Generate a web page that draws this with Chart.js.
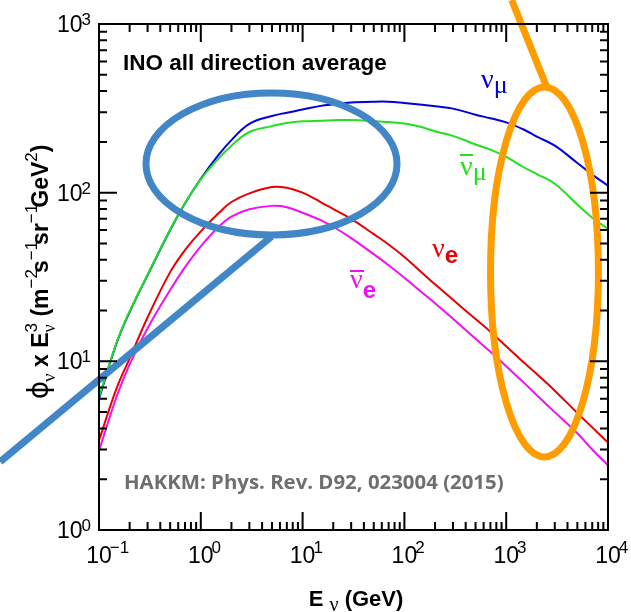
<!DOCTYPE html>
<html>
<head>
<meta charset="utf-8">
<script src="https://cdn.jsdelivr.net/npm/chart.js@4.4.0/dist/chart.umd.min.js"></script>
<style>
  body { margin: 0; background: #fff; }
</style>
</head>
<body>
<canvas id="fluxChart" width="631" height="612"></canvas>
<script>
// neutrino energy (GeV) and flux x E^3
const energies = [0.1, 0.15, 0.2, 0.3, 0.5, 0.7, 1, 1.5, 2, 3, 5, 7, 10, 15, 20, 30, 50, 70, 100, 150, 200, 300, 500, 700, 1000, 1500, 2000, 3000, 5000, 7000, 10000];
const numu    = [6.0, 13.0, 19.6, 32.4, 60, 86.5, 121, 168, 205, 256, 285, 298, 311, 327, 334, 342, 346, 346, 340, 332, 325, 315, 290, 276, 261, 236, 215, 190, 150, 128, 110];
const numubar = [6.15, 13.1, 19.8, 32.6, 60.5, 86.7, 120, 160, 190, 229, 248, 259, 265, 267, 269, 270, 266, 262, 257, 244, 231, 217, 193, 180, 163, 141, 129, 113, 85, 71, 61];
const nue     = [3.4, 7.0, 10.4, 18.2, 33.8, 45.7, 59, 75.7, 88, 99, 108, 107, 100, 88, 80, 70, 56.8, 49.3, 41.6, 33.4, 28.6, 23.2, 17.8, 15.0, 12.3, 9.8, 8.4, 6.7, 4.94, 4.06, 3.3];
const nuebar  = [2.95, 6.25, 9.6, 15.7, 26.5, 36.2, 48.1, 62.8, 72.1, 79.8, 83.5, 82, 76, 68.7, 62.8, 53.8, 43.2, 37.1, 31.3, 25.5, 22.1, 17.9, 13.6, 11.4, 9.35, 7.45, 6.3, 5.0, 3.75, 3.0, 2.42];

const xTicks = [0.1, 1, 10, 100, 1000, 10000];
const yTicks = [1, 10, 100, 1000];

// highlight rings: centre in data units, half axes in decades
const blueRing = { e: 4.95, flux: 148, rx: 1.233, ry: 0.421 };
const blueTail = [[4.95, 55], [0.0107, 2.54]];
const orangeRing = { e: 2377, flux: 33.9, rx: 0.53, ry: 1.097 };
const orangeTail = [[2500, 423], [1132, 1388]];

const canvas = document.getElementById("fluxChart");

function pairs(ys) {
    return energies.map((e, i) => ({ x: e, y: ys[i] }));
}

function drawParts(ctx, parts, x, y) {
    parts.forEach((p) => {
        ctx.font = p.f;
        ctx.fillText(p.t, x + (p.dx || 0), y + (p.dy || 0));
        if (p.under) {
            ctx.font = p.under.f;
            ctx.fillText(p.under.t, x, y + p.under.dy);
        }
        ctx.font = p.f;
        x += ctx.measureText(p.t).width + (p.dx || 0) + (p.kern || 0);
    });
    return x;
}

function partsWidth(ctx, parts) {
    let w = 0;
    parts.forEach((p) => {
        ctx.font = p.f;
        w += ctx.measureText(p.t).width + (p.dx || 0) + (p.kern || 0);
    });
    return w;
}

function supText(exp) {
    return exp < 0 ? "\u2212" + (-exp) : String(exp);
}

const decor = {
    id: "decor",
    afterDatasetsDraw(chart) {
        const ctx = chart.ctx;
        const xs = chart.scales.x, ys = chart.scales.y;
        ctx.save();
        ctx.lineWidth = 7;
        [[blueRing, blueTail, "#4186c7"], [orangeRing, orangeTail, "#ff9c00"]].forEach(([ring, tail, col]) => {
            const cx = xs.getPixelForValue(ring.e);
            const cy = ys.getPixelForValue(ring.flux);
            const rx = xs.getPixelForValue(ring.e * Math.pow(10, ring.rx)) - cx;
            const ry = cy - ys.getPixelForValue(ring.flux * Math.pow(10, ring.ry));
            ctx.strokeStyle = col;
            ctx.beginPath();
            ctx.ellipse(cx, cy, rx, ry, 0, 0, Math.PI * 2);
            ctx.stroke();
            ctx.beginPath();
            ctx.moveTo(xs.getPixelForValue(tail[0][0]), ys.getPixelForValue(tail[0][1]));
            ctx.lineTo(xs.getPixelForValue(tail[1][0]), ys.getPixelForValue(tail[1][1]));
            ctx.stroke();
        });
        ctx.restore();
    },
    afterDraw(chart) {
        const ctx = chart.ctx;
        const a = chart.chartArea;
        const xs = chart.scales.x, ys = chart.scales.y;
        ctx.save();
        ctx.strokeStyle = "#000";
        ctx.lineWidth = 2;
        ctx.strokeRect(a.left, a.top, a.right - a.left, a.bottom - a.top);

        // inward ticks on all four sides
        ctx.beginPath();
        for (let k = -1; k < 4; k++) {
            for (let m = 1; m < 10; m++) {
                const px = xs.getPixelForValue(m * Math.pow(10, k));
                const len = m === 1 ? 18 : 8;
                ctx.moveTo(px, a.bottom); ctx.lineTo(px, a.bottom - len);
                ctx.moveTo(px, a.top); ctx.lineTo(px, a.top + len);
            }
        }
        for (let k = 0; k < 3; k++) {
            for (let m = 1; m < 10; m++) {
                const py = ys.getPixelForValue(m * Math.pow(10, k));
                const len = m === 1 ? 18 : 8;
                ctx.moveTo(a.left, py); ctx.lineTo(a.left + len, py);
                ctx.moveTo(a.right, py); ctx.lineTo(a.right - len, py);
            }
        }
        ctx.stroke();

        // tick labels 10^n
        ctx.fillStyle = "#000";
        ctx.textAlign = "left";
        ctx.textBaseline = "alphabetic";
        const big = '23px "Liberation Sans"', small = '17px "Liberation Sans"';
        xTicks.forEach((v) => {
            const px = xs.getPixelForValue(v);
            ctx.font = big;
            const w = ctx.measureText("10").width;
            ctx.fillText("10", px - w / 2, a.bottom + 33);
            ctx.font = small;
            ctx.fillText(supText(Math.round(Math.log10(v))), px + w / 2 - 2, a.bottom + 23);
        });
        yTicks.forEach((v) => {
            const py = ys.getPixelForValue(v);
            const s = supText(Math.round(Math.log10(v)));
            ctx.font = small;
            const ws = ctx.measureText(s).width;
            ctx.fillText(s, 91 - ws, py + 1);
            ctx.font = big;
            const w = ctx.measureText("10").width;
            ctx.fillText("10", 91 - ws - w + 1, py + 8);
        });

        // axis titles
        const bold = 'bold 22px "Liberation Sans"';
        const xParts = [
            { t: "E", f: bold },
            { t: " ", f: bold },
            { t: "\u03bd", f: '20px "Liberation Serif"', dy: 5 },
            { t: " (GeV)", f: bold },
        ];
        drawParts(ctx, xParts, 356 - partsWidth(ctx, xParts) / 2, 606);

        const bold23 = 'bold 23px "Liberation Sans"';
        const sup = '17px "Liberation Sans"';
        const yParts = [
            { t: "\u03d5", f: '28px "DejaVu Sans"', kern: -1 },
            { t: "\u03bd", f: '19px "Liberation Serif"', dy: 7 },
            { t: " x ", f: bold23 },
            { t: "E", f: bold23 },
            { t: "3", f: sup, dy: -11, under: { t: "\u03bd", f: '18px "Liberation Serif"', dy: 7 } },
            { t: " (m", f: bold23 },
            { t: "\u22122", f: sup, dy: -11, kern: -4 },
            { t: "s", f: bold23 },
            { t: "\u22121", f: sup, dy: -11, kern: -4 },
            { t: "sr", f: bold23 },
            { t: "\u22121", f: sup, dy: -11, kern: -4 },
            { t: "GeV", f: bold23 },
            { t: "2", f: sup, dy: -11 },
            { t: ")", f: bold23 },
        ];
        const yw = partsWidth(ctx, yParts);
        ctx.save();
        ctx.translate(48, 272 + yw / 2);
        ctx.rotate(-Math.PI / 2);
        drawParts(ctx, yParts, 0, 0);
        ctx.restore();

        // captions
        ctx.font = 'bold 22.5px "Liberation Sans"';
        ctx.fillText("INO all direction average", 123, 70);
        ctx.fillStyle = "#6e6e6e";
        const ref = "HAKKM: Phys. Rev. D92, 023004 (2015)";
        ctx.font = '700 20px "Open Sans"';
        const refSize = 20 * 380 / ctx.measureText(ref).width;
        ctx.font = '700 ' + refSize.toFixed(1) + 'px "Open Sans"';
        ctx.fillText(ref, 124, 489);

        // curve labels
        const greek = '28px "Liberation Serif"';
        const greekSub = '26px "Liberation Serif"';
        const eFont = 'bold 24px "Liberation Sans"';
        ctx.fillStyle = "#0000d8";
        drawParts(ctx, [{ t: "\u03bd", f: greek }, { t: "\u03bc", f: greekSub, dy: 5 }], 481, 88);
        ctx.fillStyle = "#20e020";
        drawParts(ctx, [{ t: "\u03bd", f: greek }, { t: "\u03bc", f: greekSub, dy: 5 }], 460, 175);
        ctx.fillRect(460, 154, 13, 2);
        ctx.fillStyle = "#e80000";
        drawParts(ctx, [{ t: "\u03bd", f: greek }, { t: "e", f: eFont, dy: 6 }], 432, 257);
        ctx.fillStyle = "#f010f0";
        drawParts(ctx, [{ t: "\u03bd", f: greek }, { t: "e", f: eFont, dy: 10 }], 350, 288);
        ctx.fillRect(350, 270, 14, 2);
        ctx.restore();
    },
};

new Chart(canvas, {
    type: "line",
    data: {
        datasets: [
            { label: "anti nu_mu", data: pairs(numubar), borderColor: "#20e020" },
            { label: "nu_mu", data: pairs(numu), borderColor: "#0000d8" },
            { label: "anti nu_e", data: pairs(nuebar), borderColor: "#f010f0" },
            { label: "nu_e", data: pairs(nue), borderColor: "#e80000" },
        ],
    },
    options: {
        responsive: false,
        animation: false,
        layout: { padding: { left: 99, top: 24, right: 23, bottom: 82 } },
        elements: {
            point: { radius: 0 },
            line: { borderWidth: 2, tension: 0.4, fill: false },
        },
        plugins: { legend: { display: false }, tooltip: { enabled: false } },
        scales: {
            x: { type: "logarithmic", min: 0.1, max: 10000, display: false },
            y: { type: "logarithmic", min: 1, max: 1000, display: false },
        },
    },
    plugins: [decor],
});
</script>
</body>
</html>
